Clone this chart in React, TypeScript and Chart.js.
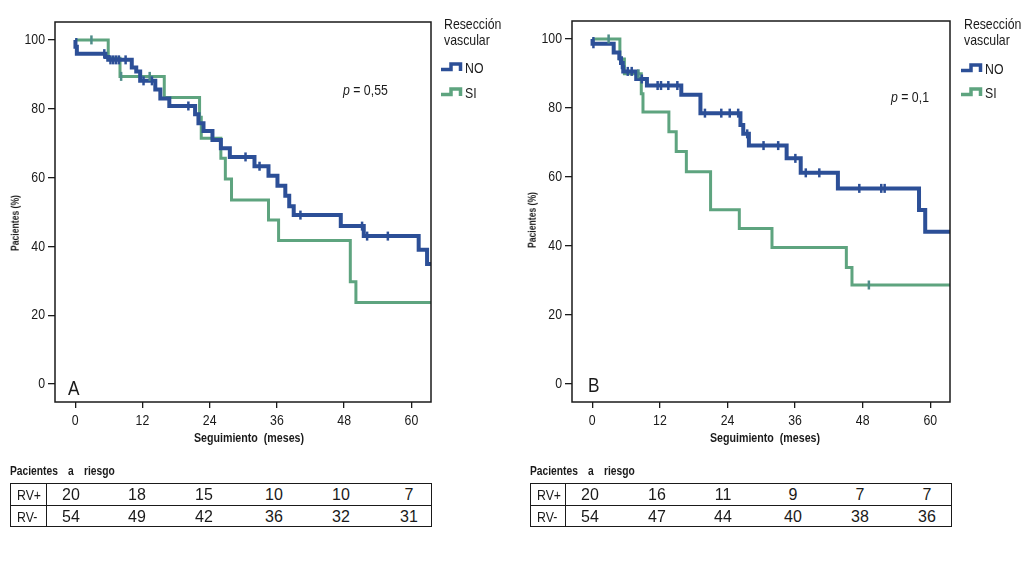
import React, { useEffect, useRef } from "react";
import { Chart, registerables } from "chart.js";
Chart.register(...registerables);

// ---------- data ----------
const monthTicks = [0, 12, 24, 36, 48, 60];
const percentTicks = [0, 20, 40, 60, 80, 100];

// Panel A – Kaplan-Meier steps (time in months, survival %)
const aNoTimes = [0, 0.05, 0.3, 5.4, 5.9, 10.1, 10.9, 11.6, 14.3, 15.2, 16.8, 21.4, 22.0, 22.9, 24.5, 26.0, 27.6, 32.0, 34.5, 36.1, 37.5, 38.2, 39.0, 47.4, 51.5, 61.3, 62.8, 64];
const aNoSurv = [100, 98, 96, 95, 94.2, 92, 90.8, 88.1, 85.6, 83, 80.8, 78.4, 75.8, 73.5, 70.9, 68.5, 66.0, 63.3, 60.5, 57.6, 54.7, 51.7, 49.1, 45.9, 43.0, 39.0, 34.9, 34.9];
const aNoCensored = [5.2, 6.3, 6.8, 7.3, 7.8, 9.0, 12.2, 13.7, 20.2, 30.4, 32.9, 40.2, 51.2, 52.1, 55.8];
const aSiTimes = [0, 5.9, 8.0, 15.9, 22.2, 22.5, 26.0, 26.8, 27.9, 34.5, 36.3, 49.1, 50.1, 64];
const aSiSurv = [100, 94.7, 89.4, 83.3, 77.5, 71.4, 65.6, 59.6, 53.5, 47.7, 41.7, 29.7, 23.7, 23.7];
const aSiCensored = [2.9, 8.2, 13.3];

// Panel B
const bNoTimes = [0, 0.05, 3.8, 4.8, 5.1, 5.4, 5.5, 7.8, 9.7, 15.8, 19.2, 26.3, 26.8, 27.8, 34.5, 37.0, 43.6, 58.0, 59.1, 64];
const bNoSurv = [100, 98.6, 96.1, 94.4, 93, 91.8, 90.6, 88.4, 86.5, 83.8, 78.5, 75.1, 72.5, 69.1, 65.4, 61.2, 56.7, 50.4, 44.1, 44.1];
const bNoCensored = [0.2, 6.3, 7.0, 8.8, 11.6, 12.2, 13.5, 15.1, 20.0, 22.9, 24.4, 25.9, 27.5, 30.4, 33.0, 36.05, 37.9, 40.3, 47.4, 51.3, 51.9];
const bSiTimes = [0, 4.9, 5.7, 8.7, 9.0, 13.6, 14.9, 16.7, 21.0, 26.1, 31.9, 45.1, 46.1, 64];
const bSiSurv = [100, 94.2, 89.9, 84.1, 78.8, 73.1, 67.4, 61.5, 50.5, 45.1, 39.6, 33.8, 28.7, 28.7];
const bSiCensored = [2.9, 8.2, 49.1];

const riskRowLabels = ["RV+", "RV-"];
const aRiskPlus = [20, 18, 15, 10, 10, 7];
const aRiskMinus = [54, 49, 42, 36, 32, 31];
const bRiskPlus = [20, 16, 11, 9, 7, 7];
const bRiskMinus = [54, 47, 44, 40, 38, 36];

const legendTitle = ["Resección", "vascular"];
const groupLabels = ["NO", "SI"];
const pValueA = "0,55";
const pValueB = "0,1";
const panelLetters = ["A", "B"];
const xTitle = "Seguimiento  (meses)";
const yTitle = "Pacientes (%)";
const riskTitle = "Pacientes a riesgo";

// ---------- style ----------
const BLUE = "#2c4f97";
const GREEN = "#5ea47f";
const GREEN_CENS = "#4f8d89";
const INK = "#1a1a1a";
const REGULAR = '"Liberation Sans", Arial, sans-serif';
const SQ = 0.82; // horizontal squeeze emulating a condensed face

function survAt(times: number[], surv: number[], t: number) {
  let v = surv[0];
  for (let i = 0; i < times.length; i++) if (times[i] <= t) v = surv[i];
  return v;
}

const framePlugin = {
  id: "frame",
  afterDraw(chart: any) {
    const { left, top, right, bottom } = chart.chartArea;
    const ctx = chart.ctx;
    ctx.save();
    ctx.strokeStyle = INK;
    ctx.lineWidth = 1.5;
    ctx.strokeRect(left, top, right - left, bottom - top);

    // condensed tick labels
    ctx.fillStyle = INK;
    ctx.font = `15px ${REGULAR}`;
    ctx.textBaseline = "middle";
    const xs = chart.scales.x;
    const ys = chart.scales.y;
    ctx.textAlign = "center";
    xs.ticks.forEach((t: any) => {
      const px = xs.getPixelForValue(t.value);
      ctx.save();
      ctx.translate(px, xs.top + 19);
      ctx.scale(SQ, 1);
      ctx.fillText(String(t.value), 0, 0);
      ctx.restore();
    });
    ctx.textAlign = "right";
    ys.ticks.forEach((t: any) => {
      const py = ys.getPixelForValue(t.value);
      ctx.save();
      ctx.translate(ys.right - 10, py);
      ctx.scale(SQ, 1);
      ctx.fillText(String(t.value), 0, 0);
      ctx.restore();
    });
    ctx.restore();
  },
};

type PanelCfg = {
  noT: number[]; noS: number[]; noC: number[];
  siT: number[]; siS: number[]; siC: number[];
  yAxisW: number; padTop: number; padRight: number;
};

function KMChart({ cfg }: { cfg: PanelCfg }) {
  const ref = useRef<HTMLCanvasElement | null>(null);
  useEffect(() => {
    if (!ref.current) return;
    const censorDs = (ts: number[], times: number[], surv: number[], color: string) => ({
      data: ts.map((t) => ({ x: t, y: survAt(times, surv, t) })),
      showLine: false,
      pointStyle: "line",
      rotation: 90,
      pointRadius: 4.5,
      pointBorderWidth: 2.5,
      borderColor: color,
      pointBorderColor: color,
      backgroundColor: color,
    });
    const lineDs = (times: number[], surv: number[], color: string, w: number) => ({
      data: times.map((t, i) => ({ x: t, y: surv[i] })),
      stepped: "before",
      borderColor: color,
      borderWidth: w,
      pointRadius: 0,
      fill: false,
      borderCapStyle: "butt",
      borderJoinStyle: "miter",
    });
    const chart = new Chart(ref.current, {
      type: "line",
      data: {
        datasets: [
          censorDs(cfg.noC, cfg.noT, cfg.noS, BLUE),
          censorDs(cfg.siC, cfg.siT, cfg.siS, GREEN_CENS),
          lineDs(cfg.noT, cfg.noS, BLUE, 4),
          lineDs(cfg.siT, cfg.siS, GREEN, 3),
        ] as any,
      },
      options: {
        animation: false,
        responsive: true,
        maintainAspectRatio: false,
        layout: { padding: { left: 0, top: cfg.padTop, right: cfg.padRight, bottom: 0 } },
        plugins: { legend: { display: false }, tooltip: { enabled: false } },
        scales: {
          x: {
            type: "linear",
            min: -3.6,
            max: 63.5,
            afterBuildTicks: (s: any) => { s.ticks = monthTicks.map((v) => ({ value: v })); },
            afterFit: (s: any) => { s.height = 48; },
            grid: { display: true, drawOnChartArea: false, drawTicks: true, tickLength: 6, color: INK, lineWidth: 1.3 },
            border: { display: false },
            ticks: { display: false },
          },
          y: {
            type: "linear",
            min: -5.2,
            max: 105.2,
            afterBuildTicks: (s: any) => { s.ticks = percentTicks.map((v) => ({ value: v })); },
            afterFit: (s: any) => { s.width = cfg.yAxisW; },
            grid: { display: true, drawOnChartArea: false, drawTicks: true, tickLength: 7, color: INK, lineWidth: 1.3 },
            border: { display: false },
            ticks: { display: false },
          },
        },
      } as any,
      plugins: [framePlugin],
    });
    return () => chart.destroy();
  }, [cfg]);
  return <canvas ref={ref} />;
}

function Txt({ x, y, size, children, weight = "normal", squeeze = true, align = "left", style = {} }: any) {
  const tx = align === "center" ? "translateX(-50%) " : "";
  return (
    <div
      style={{
        position: "absolute",
        left: x,
        top: y - size * 0.6,
        fontSize: size,
        lineHeight: `${size * 1.2}px`,
        fontFamily: REGULAR,
        fontWeight: weight,
        color: INK,
        whiteSpace: "pre",
        transformOrigin: align === "center" ? "50% 50%" : "0 50%",
        transform: tx + (squeeze ? `scaleX(${SQ})` : ""),
        ...style,
      }}
    >
      {children}
    </div>
  );
}

function RotTxt({ x, y, size, children }: any) {
  return (
    <div
      style={{
        position: "absolute",
        left: x,
        top: y,
        fontSize: size,
        lineHeight: `${size * 1.2}px`,
        fontFamily: REGULAR,
        fontWeight: "bold",
        color: INK,
        whiteSpace: "pre",
        transform: `translate(-50%, -50%) rotate(-90deg) scaleX(${SQ})`,
      }}
    >
      {children}
    </div>
  );
}

function StepIcon({ x, y, color }: any) {
  return (
    <svg style={{ position: "absolute", left: x, top: y - 6 }} width={22} height={12}>
      <polyline points="0,8.5 10,8.5 10,3 19.5,3 19.5,10" fill="none" stroke={color} strokeWidth={3.5} strokeLinejoin="miter" />
    </svg>
  );
}

function Legend({ x, yNo }: { x: number; yNo: number }) {
  return (
    <>
      <Txt x={x + 3} y={24} size={15}>{legendTitle[0]}</Txt>
      <Txt x={x + 3} y={40} size={15}>{legendTitle[1]}</Txt>
      <StepIcon x={x} y={yNo} color={BLUE} />
      <Txt x={x + 24} y={yNo + 1} size={15}>{groupLabels[0]}</Txt>
      <StepIcon x={x} y={92} color={GREEN} />
      <Txt x={x + 24} y={93} size={15}>{groupLabels[1]}</Txt>
    </>
  );
}

function RiskTable({ left, right, colSep, centers, rows }: any) {
  const top = 483;
  const rowH = 22;
  return (
    <>
      <Txt x={left} y={471} size={12.5} weight="bold" style={{ wordSpacing: 9 }}>{riskTitle}</Txt>
      <div style={{ position: "absolute", left, top, width: right - left, height: rowH * 2, border: `1.3px solid ${INK}`, boxSizing: "border-box" }} />
      <div style={{ position: "absolute", left, top: top + rowH, width: right - left, height: 0, borderTop: `1.3px solid ${INK}` }} />
      <div style={{ position: "absolute", left: colSep, top, width: 0, height: rowH * 2, borderLeft: `1.3px solid ${INK}` }} />
      {rows.map((vals: number[], r: number) => (
        <React.Fragment key={r}>
          <Txt x={left + 7} y={top + rowH * r + 12} size={15}>{riskRowLabels[r]}</Txt>
          {vals.map((v, i) => (
            <Txt key={i} x={centers[i]} y={top + rowH * r + 12} size={16} squeeze={false} align="center">
              {String(v)}
            </Txt>
          ))}
        </React.Fragment>
      ))}
    </>
  );
}

const cfgA: PanelCfg = {
  noT: aNoTimes, noS: aNoSurv, noC: aNoCensored,
  siT: aSiTimes, siS: aSiSurv, siC: aSiCensored,
  yAxisW: 55, padTop: 22, padRight: 84,
};
const cfgB: PanelCfg = {
  noT: bNoTimes, noS: bNoSurv, noC: bNoCensored,
  siT: bSiTimes, siS: bSiSurv, siC: bSiCensored,
  yAxisW: 57, padTop: 21, padRight: 80,
};

export default function App() {
  return (
    <div style={{ position: "absolute", left: 0, top: 0, width: 1030, height: 567, background: "#fff", overflow: "hidden" }}>
      <div style={{ position: "absolute", left: 0, top: 0, width: 515, height: 450 }}>
        <KMChart cfg={cfgA} />
      </div>
      <div style={{ position: "absolute", left: 515, top: 0, width: 515, height: 450 }}>
        <KMChart cfg={cfgB} />
      </div>

      <RotTxt x={15} y={223} size={10.5}>{yTitle}</RotTxt>
      <RotTxt x={532} y={220} size={10.5}>{yTitle}</RotTxt>
      <Txt x={249} y={438} size={13} weight="bold" align="center">{xTitle}</Txt>
      <Txt x={765} y={438} size={13} weight="bold" align="center">{xTitle}</Txt>

      <Txt x={68} y={388} size={21}>{panelLetters[0]}</Txt>
      <Txt x={588} y={385} size={21}>{panelLetters[1]}</Txt>

      <Txt x={343} y={90} size={15}><i>p</i> = {pValueA}</Txt>
      <Txt x={891} y={97} size={15}><i>p</i> = {pValueB}</Txt>

      <Legend x={441} yNo={67} />
      <Legend x={961} yNo={68} />

      <RiskTable left={10} right={432} colSep={46} centers={[71, 137, 204, 274, 341, 409]} rows={[aRiskPlus, aRiskMinus]} />
      <RiskTable left={530} right={952} colSep={565} centers={[590, 657, 723, 793, 860, 927]} rows={[bRiskPlus, bRiskMinus]} />
    </div>
  );
}
